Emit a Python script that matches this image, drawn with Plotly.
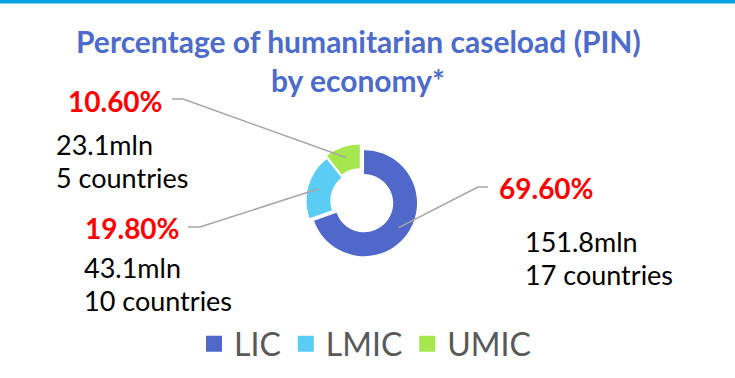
import math
import plotly.graph_objects as go

# ---- data ----
categories = ["LIC", "LMIC", "UMIC"]
shares = [69.6, 19.8, 10.6]            # % of humanitarian caseload (PIN)
people_mln = [151.8, 43.1, 23.1]       # people in need, millions
countries = [17, 10, 5]
colors = ["#4F68C9", "#5BCDF4", "#A6E64E"]

# ---- layout constants (pixels) ----
W, H = 735, 378
CX, CY = 361, 201          # donut centre
R = 53                     # donut radius
PULL = [0.07, 0.03, 0.07]
HOLE = 0.55
FONT = "Lato"

half = R * (1 + max(PULL))


def px(x):
    return x / W


def py(y):
    return 1 - y / H


fig = go.Figure(
    go.Pie(
        labels=categories,
        values=shares,
        marker=dict(colors=colors, line=dict(color="white", width=0)),
        hole=HOLE,
        pull=PULL,
        sort=False,
        direction="clockwise",
        rotation=0,
        textinfo="none",
        hoverinfo="skip",
        showlegend=False,
        domain=dict(x=[px(CX - half), px(CX + half)],
                    y=[py(CY + half), py(CY - half)]),
    )
)

# legend entries with larger square swatches
for cat, col in zip(categories, colors):
    fig.add_trace(go.Scatter(
        x=[None], y=[None], mode="markers", name=cat,
        marker=dict(symbol="square", size=16, color=col),
        hoverinfo="skip",
    ))

# anchor point on each slice: middle of the (pulled) ring, at the slice mid-angle
total = sum(shares)
anchors = []
start = 0.0
for v, p in zip(shares, PULL):
    mid = math.radians((start + v / 2) / total * 360)
    r = R * (p + 0.8)
    anchors.append((CX + r * math.sin(mid), CY - r * math.cos(mid)))
    start += v

# label blocks: (percent pos, detail pos, elbow start, elbow end)
label_layout = {
    "LIC": dict(pct=(497, 188), det=(523, 241), elbow=((488, 187), (478, 187))),
    "LMIC": dict(pct=(83, 228), det=(82, 267), elbow=((188, 227), (200, 227))),
    "UMIC": dict(pct=(66, 101), det=(54, 144), elbow=((172, 99), (183, 99))),
}

annotations = []
shapes = [
    dict(type="rect", xref="paper", yref="paper", x0=0, x1=1,
         y0=py(3.5), y1=1, fillcolor="#00A0E3", line=dict(width=0), layer="above"),
]

for cat, v, mln, n, anc in zip(categories, shares, people_mln, countries, anchors):
    lay = label_layout[cat]
    annotations.append(dict(
        x=px(lay["pct"][0]), y=py(lay["pct"][1]), xref="paper", yref="paper",
        xanchor="left", yanchor="middle", showarrow=False,
        text=f"<b>{v:.2f}%</b>",
        font=dict(family=FONT, size=28, color="#FF0000"),
    ))
    for i, line in enumerate([f"{mln}mln", f"{n} countries"]):
        annotations.append(dict(
            x=px(lay["det"][0]), y=py(lay["det"][1] + i * 33), xref="paper", yref="paper",
            xanchor="left", yanchor="middle", showarrow=False,
            text=line,
            font=dict(family=FONT, size=27, color="#000000"),
        ))
    (x0, y0), (x1, y1) = lay["elbow"]
    shapes.append(dict(type="line", xref="paper", yref="paper",
                       x0=px(x0), y0=py(y0), x1=px(x1), y1=py(y1),
                       line=dict(color="#A6A6A6", width=1.5)))
    shapes.append(dict(type="line", xref="paper", yref="paper",
                       x0=px(x1), y0=py(y1), x1=px(anc[0]), y1=py(anc[1]),
                       line=dict(color="#A6A6A6", width=1.5)))

# title, two lines
for text, yc in [("Percentage of humanitarian caseload (PIN)", 41), ("by economy*", 80)]:
    annotations.append(dict(
        x=px(358), y=py(yc), xref="paper", yref="paper",
        xanchor="center", yanchor="middle", showarrow=False,
        text=f"<b>{text}</b>",
        font=dict(family=FONT, size=30, color="#4C6BCB"),
    ))

fig.update_layout(
    width=W, height=H,
    margin=dict(l=0, r=0, t=0, b=0),
    paper_bgcolor="white",
    plot_bgcolor="white",
    xaxis=dict(visible=False),
    yaxis=dict(visible=False),
    showlegend=True,
    legend=dict(
        orientation="h",
        x=px(365), xanchor="center",
        y=py(344), yanchor="middle",
        font=dict(family=FONT, size=32, color="#595959"),
        itemclick=False, itemdoubleclick=False,
        traceorder="normal",
    ),
    annotations=annotations,
    shapes=shapes,
)

fig.write_html("out.html")
